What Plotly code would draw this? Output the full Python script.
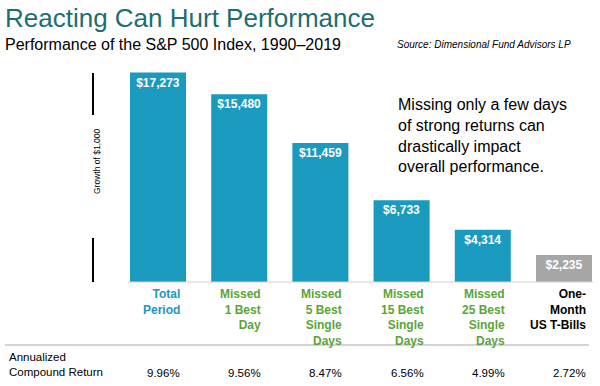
import plotly.graph_objects as go

# ---- data ----
categories = ["Total<br>Period", "Missed<br>1 Best<br>Day", "Missed<br>5 Best<br>Single<br>Days",
              "Missed<br>15 Best<br>Single<br>Days", "Missed<br>25 Best<br>Single<br>Days",
              "One-<br>Month<br>US T-Bills"]
growth = [17273, 15480, 11459, 6733, 4314, 2235]
annual_returns = ["9.96%", "9.56%", "8.47%", "6.56%", "4.99%", "2.72%"]
label_colors = ["#2196be", "#5aa538", "#5aa538", "#5aa538", "#5aa538", "#000000"]
bar_colors = ["#1b9ac0"] * 5 + ["#a6a6a6"]

W, H = 600, 386
FONT = "Liberation Sans, Arial, sans-serif"

def px(x):
    return x / W

def py(y):
    return 1 - y / H

xs = list(range(len(categories)))
spacing = 81.2
x0 = 158
k = 17273 / 209.5  # dollars per pixel

fig = go.Figure()
fig.add_trace(go.Bar(
    x=xs, y=growth, width=0.69,
    marker=dict(color=bar_colors, line=dict(width=0)),
    texttemplate="<b>$%{y:,.0f}</b>",
    textposition="inside", insidetextanchor="end",
    textfont=dict(color="white", size=12, family=FONT),
    constraintext="none",
    hoverinfo="skip",
))

annotations = []
# title, subtitle, source
annotations.append(dict(x=px(3), y=py(18), xref="paper", yref="paper", xanchor="left", yanchor="middle",
                        text="Reacting Can Hurt Performance", showarrow=False,
                        font=dict(size=26, color="#1d6e72", family=FONT)))
annotations.append(dict(x=px(3), y=py(45), xref="paper", yref="paper", xanchor="left", yanchor="middle",
                        text="Performance of the S&P 500 Index, 1990–2019", showarrow=False,
                        font=dict(size=16, color="black", family=FONT)))
annotations.append(dict(x=px(395), y=py(45), xref="paper", yref="paper", xanchor="left", yanchor="middle",
                        text="<i>Source: Dimensional Fund Advisors LP</i>", showarrow=False,
                        font=dict(size=10, color="black", family=FONT)))
# callout
annotations.append(dict(x=px(396), y=py(136), xref="paper", yref="paper", xanchor="left", yanchor="middle",
                        text="Missing only a few days<br>of strong returns can<br>drastically impact<br>overall performance.",
                        align="left", showarrow=False,
                        font=dict(size=16, color="black", family=FONT)))
# y-axis title
annotations.append(dict(x=px(97), y=py(161), xref="paper", yref="paper", xanchor="center", yanchor="middle",
                        text="Growth of $1,000", textangle=-90, showarrow=False,
                        font=dict(size=8.5, color="black", family=FONT)))
# category labels and returns
for i, (cat, col, ret) in enumerate(zip(categories, label_colors, annual_returns)):
    annotations.append(dict(x=i + 0.345, y=py(285), xref="x", yref="paper", xanchor="right", yanchor="top",
                            xshift=-4, text="<b>" + cat + "</b>", align="right", showarrow=False,
                            font=dict(size=12, color=col, family=FONT)))
    annotations.append(dict(x=i + 0.345, y=py(373), xref="x", yref="paper", xanchor="right", yanchor="middle",
                            xshift=-4, text=ret, showarrow=False,
                            font=dict(size=11.5, color="black", family=FONT)))
annotations.append(dict(x=px(7), y=py(364), xref="paper", yref="paper", xanchor="left", yanchor="middle",
                        text="Annualized<br>Compound Return", align="left", showarrow=False,
                        font=dict(size=11.5, color="black", family=FONT)))

shapes = [
    dict(type="line", xref="paper", yref="paper", x0=px(128), x1=px(593), y0=py(282), y1=py(282),
         line=dict(color="#dccfcf", width=1)),
    dict(type="line", xref="paper", yref="paper", x0=px(5), x1=px(589), y0=py(345), y1=py(345),
         line=dict(color="#c4c4c4", width=1.5)),
    dict(type="line", xref="paper", yref="paper", x0=px(93), x1=px(93), y0=py(73), y1=py(115),
         line=dict(color="black", width=2)),
    dict(type="line", xref="paper", yref="paper", x0=px(93), x1=px(93), y0=py(238), y1=py(282),
         line=dict(color="black", width=2)),
]

fig.update_layout(
    width=W, height=H,
    margin=dict(l=0, r=0, t=0, b=0),
    paper_bgcolor="white", plot_bgcolor="white",
    showlegend=False,
    xaxis=dict(range=[-x0 / spacing, (W - x0) / spacing], visible=False, fixedrange=True),
    yaxis=dict(range=[-(H - 282) * k, 282 * k], visible=False, fixedrange=True),
    annotations=annotations,
    shapes=shapes,
    font=dict(family=FONT),
)

fig.write_html("out.html", config={"displayModeBar": False},
               post_script="document.body.style.margin='0';document.body.style.overflow='hidden';")
